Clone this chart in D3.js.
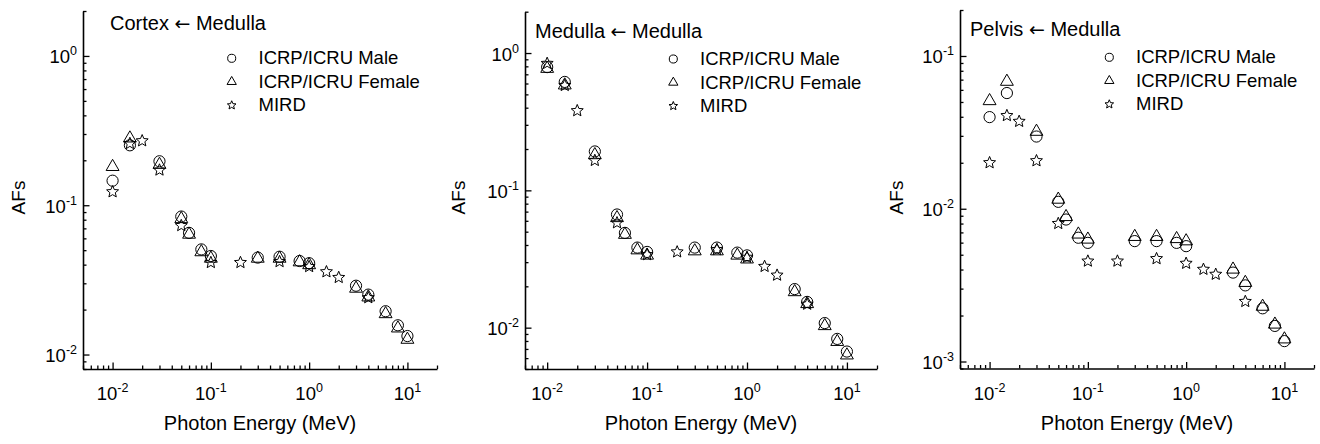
<!DOCTYPE html>
<html>
<head>
<meta charset="utf-8">
<script src="https://cdn.jsdelivr.net/npm/d3@7"></script>
<style>
  html, body { margin: 0; padding: 0; background: #fff; }
  svg { display: block; }
  text { font-family: "Liberation Sans", Arial, sans-serif; fill: #000; }
</style>
</head>
<body>
<svg id="chart" width="1320" height="444"></svg>
<script>
// ---------------- DATA ----------------
const energiesICRP = [0.01, 0.015, 0.03, 0.05, 0.06, 0.08, 0.1, 0.3, 0.5, 0.8, 1, 3, 4, 6, 8, 10];
const energiesMIRD = [0.01, 0.015, 0.02, 0.03, 0.05, 0.1, 0.2, 0.5, 1, 1.5, 2, 4];

const seriesNames = ["ICRP/ICRU Male", "ICRP/ICRU Female", "MIRD"];

const cortexMale   = [0.146, 0.252, 0.197, 0.084, 0.0653, 0.0506, 0.0457, 0.0446, 0.0452, 0.0423, 0.0409, 0.0289, 0.0252, 0.0195, 0.0157, 0.0133];
const cortexFemale = [0.181, 0.281, 0.187, 0.081, 0.0637, 0.0486, 0.0440, 0.0440, 0.0440, 0.0416, 0.0398, 0.0277, 0.0242, 0.0187, 0.0150, 0.0126];
const cortexMIRD   = [0.123, 0.259, 0.270, 0.172, 0.073, 0.0413, 0.0413, 0.0419, 0.0388, 0.0358, 0.0328, 0.0240];

const medullaMale   = [0.79, 0.616, 0.192, 0.0667, 0.0490, 0.0383, 0.0356, 0.0383, 0.0383, 0.0352, 0.0336, 0.0191, 0.0154, 0.0108, 0.00828, 0.0067];
const medullaFemale = [0.77, 0.583, 0.181, 0.0630, 0.0476, 0.0367, 0.0336, 0.0361, 0.0361, 0.0336, 0.0315, 0.0182, 0.0149, 0.0103, 0.0079, 0.0063];
const medullaMIRD   = [0.84, 0.58, 0.38, 0.165, 0.058, 0.034, 0.0356, 0.037, 0.0325, 0.0279, 0.0241, 0.0148];

const pelvisMale   = [0.0398, 0.0572, 0.0297, 0.0111, 0.0085, 0.00646, 0.00598, 0.00614, 0.00614, 0.00598, 0.00569, 0.00382, 0.00315, 0.00223, 0.00171, 0.00136];
const pelvisFemale = [0.0508, 0.068, 0.032, 0.0115, 0.00885, 0.0068, 0.0063, 0.00656, 0.00656, 0.00635, 0.00614, 0.00401, 0.00328, 0.00229, 0.00175, 0.0014];
const pelvisMIRD   = [0.020, 0.0407, 0.0373, 0.0206, 0.0080, 0.00454, 0.00454, 0.00471, 0.00439, 0.00401, 0.00372, 0.00247];

const panelTitles = [["Cortex", "Medulla"], ["Medulla", "Medulla"], ["Pelvis", "Medulla"]];
const arrowChar = "\u2190";
const xTitle = "Photon Energy (MeV)";
const yTitle = "AFs";

const xDomains = [[0.005, 20], [0.006, 20], [0.005, 20]];
const yDomains = [[0.008, 2], [0.005, 2], [0.0009, 0.2]];
const xMajorTicks = [[0.01, 0.1, 1, 10], [0.01, 0.1, 1, 10], [0.01, 0.1, 1, 10]];
const yMajorTicks = [[0.01, 0.1, 1], [0.01, 0.1, 1], [0.001, 0.01, 0.1]];

// ---------------- LAYOUT ----------------
const layouts = [
  {x0: 83,  x1: 437,  y0: 11,   y1: 369, title: [110, 29.5], legend: [231.7, 58.3, 258.5], yl: 25,  xc: 260},
  {x0: 525, x1: 877,  y0: 11.7, y1: 369, title: [535, 37.5], legend: [673.3, 59,   700],   yl: 465, xc: 701},
  {x0: 960, x1: 1314, y0: 10,   y1: 368.5, title: [970, 35.7], legend: [1109.3, 57.3, 1136], yl: 903, xc: 1137}
];
const legendGap = 23.5;

const panelData = [
  [cortexMale, cortexFemale, cortexMIRD],
  [medullaMale, medullaFemale, medullaMIRD],
  [pelvisMale, pelvisFemale, pelvisMIRD]
];

const svg = d3.select("#chart");

function starPath(R) {
  const r = R * 0.45;
  const pts = [];
  for (let i = 0; i < 10; i++) {
    const a = -Math.PI / 2 + i * Math.PI / 5;
    const rad = i % 2 === 0 ? R : r;
    pts.push([rad * Math.cos(a), rad * Math.sin(a)]);
  }
  return "M" + pts.map(p => p[0].toFixed(2) + "," + p[1].toFixed(2)).join("L") + "Z";
}
function markerPath(kind, scale) {
  if (kind === 0) return d3.symbol().type(d3.symbolCircle).size(Math.PI * Math.pow(5.6 * scale, 2))();
  if (kind === 1) return d3.symbol().type(d3.symbolTriangle).size(72 * scale * scale)();
  return starPath(6.3 * scale);
}

function minorTicks(domain) {
  const out = [];
  const lo = Math.floor(Math.log10(domain[0])) , hi = Math.ceil(Math.log10(domain[1]));
  for (let e = lo; e <= hi; e++) {
    for (let m = 1; m <= 9; m++) {
      const v = m * Math.pow(10, e);
      if (m !== 1 && v >= domain[0] * 0.9999 && v <= domain[1] * 1.0001) out.push(v);
    }
  }
  return out;
}

layouts.forEach((L, i) => {
  const x = d3.scaleLog().domain(xDomains[i]).range([L.x0, L.x1]);
  const y = d3.scaleLog().domain(yDomains[i]).range([L.y1, L.y0]);
  const g = svg.append("g");

  // X axis
  const gx = g.append("g").attr("transform", `translate(0,${L.y1})`);
  gx.call(d3.axisBottom(x).tickValues(xMajorTicks[i]).tickSize(-6.5).tickSizeOuter(0).tickFormat(""));
  gx.append("g").call(d3.axisBottom(x).tickValues(minorTicks(xDomains[i])).tickSize(-3.5).tickSizeOuter(0).tickFormat(""))
    .select(".domain").remove();
  // Y axis
  const gy = g.append("g").attr("transform", `translate(${L.x0},0)`);
  gy.call(d3.axisLeft(y).tickValues(yMajorTicks[i]).tickSize(-6.5).tickSizeOuter(0).tickFormat(""));
  gy.append("g").call(d3.axisLeft(y).tickValues(minorTicks(yDomains[i])).tickSize(-3.5).tickSizeOuter(0).tickFormat(""))
    .select(".domain").remove();

  g.selectAll(".domain").attr("stroke", "#000").attr("stroke-width", 1.6);
  g.selectAll(".tick line").attr("stroke", "#000").attr("stroke-width", 1.3);

  // X tick labels
  xMajorTicks[i].forEach(v => {
    const t = g.append("text").attr("x", x(v)).attr("y", L.y1 + 31).attr("text-anchor", "middle")
      .style("font-size", "18.5px");
    t.append("tspan").text("10");
    t.append("tspan").attr("dy", -8).style("font-size", "12.5px").text(String(Math.round(Math.log10(v))));
  });
  // Y tick labels
  yMajorTicks[i].forEach(v => {
    const t = g.append("text").attr("x", L.x0 - 6).attr("y", y(v) + 7.5).attr("text-anchor", "end")
      .style("font-size", "18.5px");
    t.append("tspan").text("10");
    t.append("tspan").attr("dy", -8).style("font-size", "12.5px").text(String(Math.round(Math.log10(v))));
  });

  // Axis titles
  g.append("text").attr("x", L.xc).attr("y", 429.5).attr("text-anchor", "middle")
    .style("font-size", "20px").text(xTitle);
  g.append("text").attr("transform", `translate(${L.yl},197.5) rotate(-90)`).attr("text-anchor", "middle")
    .style("font-size", "19px").text(yTitle);

  // Panel title
  const tt = g.append("text").attr("x", L.title[0]).attr("y", L.title[1]).style("font-size", "20px");
  tt.append("tspan").text(panelTitles[i][0] + " ");
  tt.append("tspan").style("font-family", "'DejaVu Sans', sans-serif").style("font-size", "19px").text(arrowChar);
  tt.append("tspan").text(" " + panelTitles[i][1]);

  // Data markers
  const [male, female, mird] = panelData[i];
  const sets = [
    {kind: 0, xs: energiesICRP, ys: male},
    {kind: 1, xs: energiesICRP, ys: female},
    {kind: 2, xs: energiesMIRD, ys: mird}
  ];
  sets.forEach(s => {
    g.append("g").selectAll("path").data(s.xs.map((e, k) => [e, s.ys[k]])).join("path")
      .attr("d", markerPath(s.kind, 1))
      .attr("transform", d => `translate(${x(d[0])},${y(d[1])})`)
      .attr("fill", "none").attr("stroke", "#000").attr("stroke-width", 1);
  });

  // Legend
  seriesNames.forEach((name, k) => {
    const cy = L.legend[1] + k * legendGap;
    g.append("path").attr("d", markerPath(k, 0.72))
      .attr("transform", `translate(${L.legend[0]},${cy})`)
      .attr("fill", "none").attr("stroke", "#000").attr("stroke-width", 1);
    g.append("text").attr("x", L.legend[2]).attr("y", cy + 6).style("font-size", "18.5px").text(name);
  });
});
</script>
</body>
</html>
